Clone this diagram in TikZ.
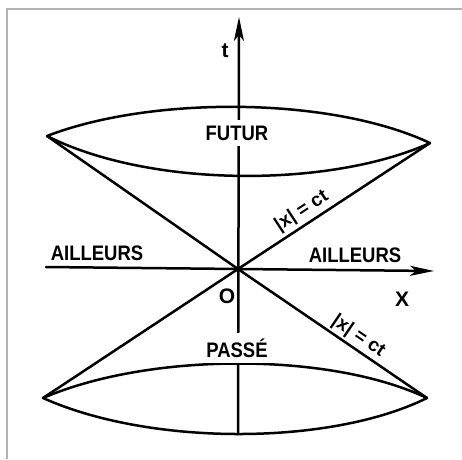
\documentclass[tikz,border=0pt]{standalone}
\usepackage{fontspec}
\usepackage{graphicx}
\setmainfont{Liberation Sans}
\usetikzlibrary{arrows.meta}
\newcommand{\narrow}[1]{\scalebox{0.88}[1]{#1}}
\begin{document}
\begin{tikzpicture}[x=1pt,y=-1pt,
  thick line/.style={line width=2.5pt, line cap=round, line join=round},
  axisarrow/.style={thick line, -{Stealth[length=24pt,width=10pt,inset=6pt]}},
  biglabel/.style={font=\fontsize{21}{23}\selectfont\bfseries, inner sep=1pt},
  regionlabel/.style={biglabel, fill=white, inner xsep=2pt, inner ysep=6pt},
  conelabel/.style={font=\fontsize{19}{22}\selectfont\bfseries, sloped, above, inner sep=3pt}]
\useasboundingbox (0,0) rectangle (462,459);
% frame
\draw[line width=2pt, black!30] (7,459) -- (7,9) -- (462,9);
% key points
\coordinate (O) at (238,269);
\coordinate (TL) at (47,136);
\coordinate (TR) at (430,143);
\coordinate (BL) at (43,398);
\coordinate (BR) at (427,398);
\coordinate (tbot) at (238,434);
\coordinate (ttip) at (239,17);
\coordinate (xleft) at (46,267);
\coordinate (xtip) at (434,271);
% lenses
\draw[thick line] (TL) .. controls (150,96) and (330,96) .. (TR)
                       .. controls (330,188) and (150,188) .. (TL) -- cycle;
\draw[thick line] (BL) .. controls (150,352) and (330,352) .. (BR)
                       .. controls (330,446) and (150,446) .. (BL) -- cycle;
% cone lines
\draw[thick line] (TL) -- (O) -- (BR);
\draw[thick line] (BL) -- (O) -- (TR)
  node[conelabel, pos=0.37] (c1) {|x| = ct};
\path (O) -- (BR) node[conelabel, pos=0.6] (c2) {|x| = ct};
% axes
\draw[axisarrow] (tbot) -- (ttip);
\draw[axisarrow] (xleft) -- (xtip);
\fill (O) circle (2.8pt);
% labels
\node[regionlabel] (futur) at (237,133) {\narrow{FUTUR}};
\node[regionlabel] (passe) at (237,348) {\narrow{PASSÉ}};
\node[biglabel] (a1) at (97,253) {\narrow{AILLEURS}};
\node[biglabel] (a2) at (355,255) {\narrow{AILLEURS}};
\node[biglabel] (t) at (225,51) {t};
\node[biglabel] (X) at (402,299) {X};
\node[biglabel] (o) at (227,296) {O};
\end{tikzpicture}
\end{document}
